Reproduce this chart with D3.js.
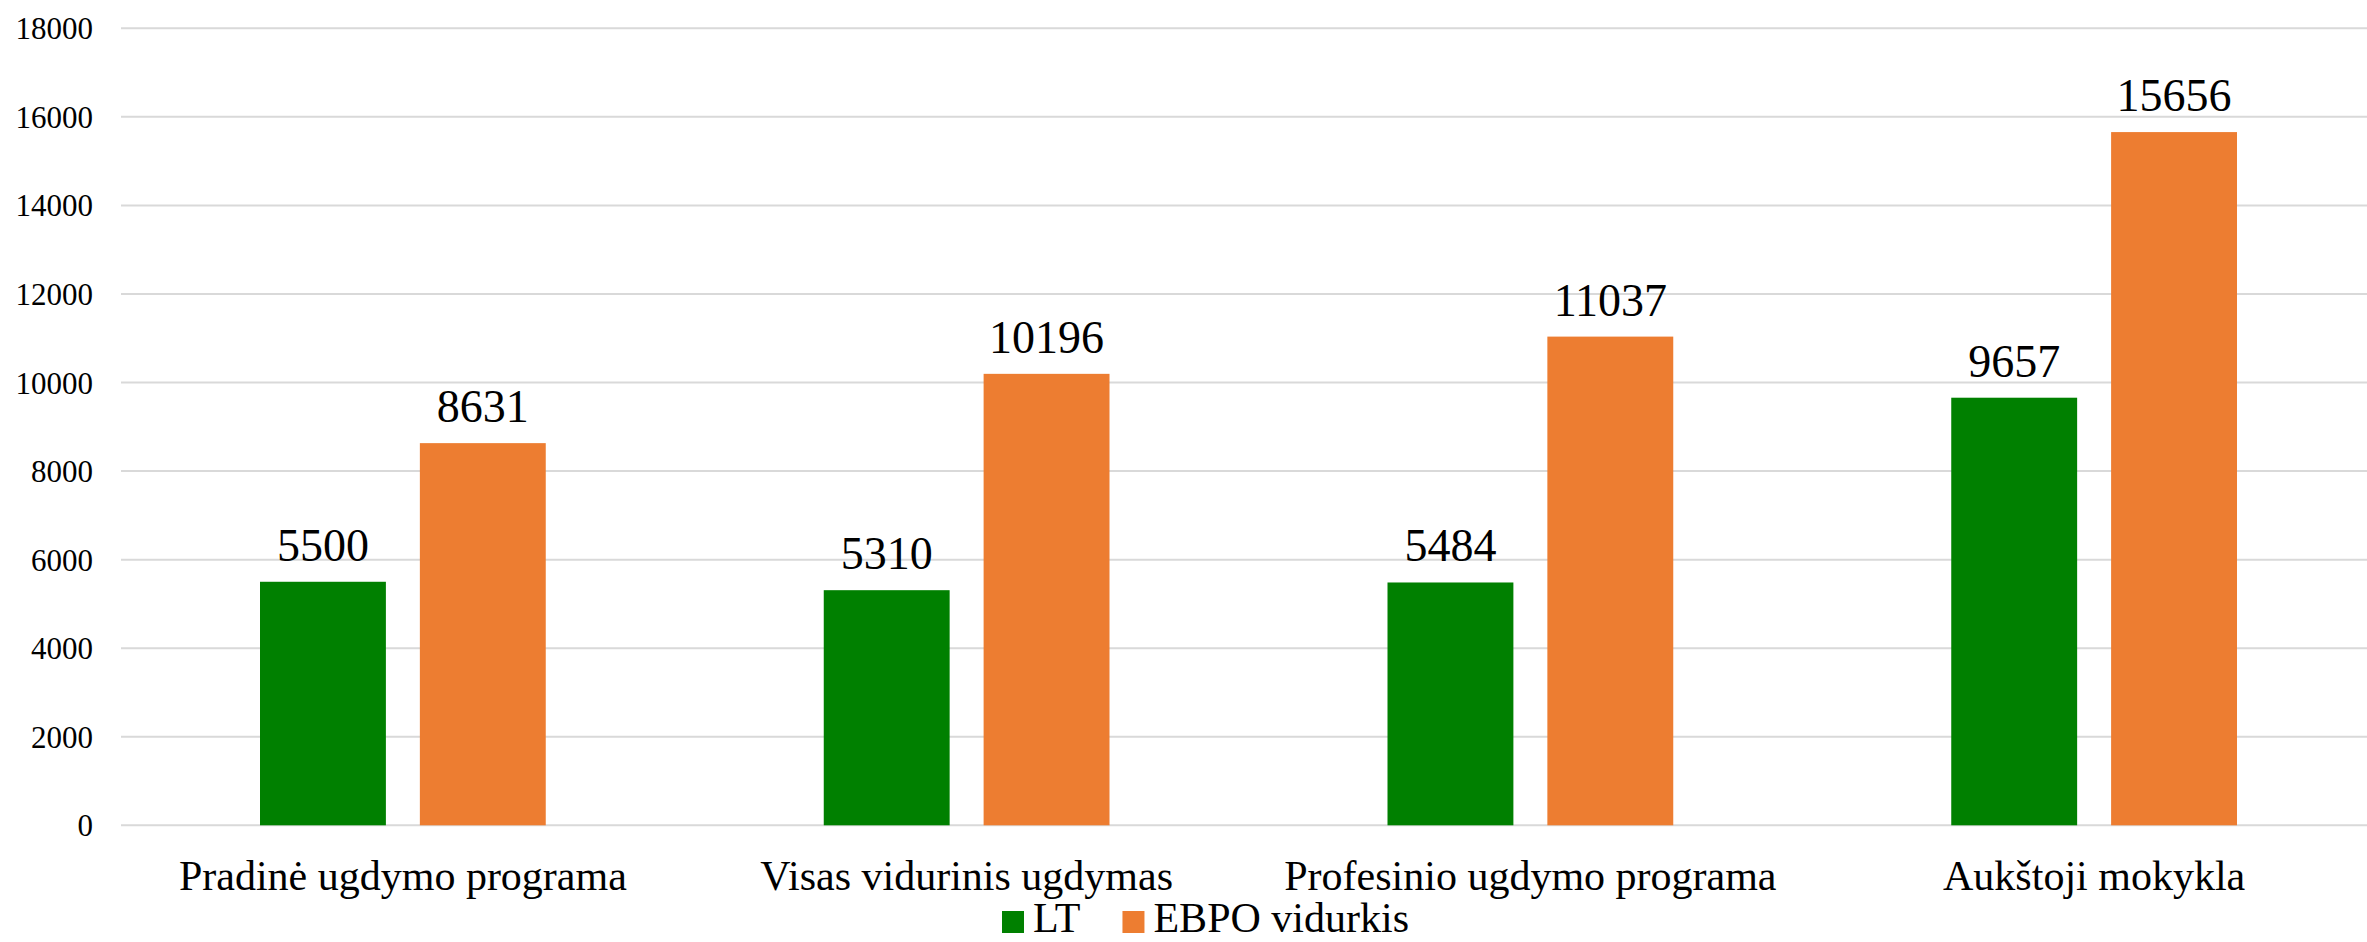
<!DOCTYPE html>
<html>
<head>
<meta charset="utf-8">
<script src="https://cdn.jsdelivr.net/npm/d3@7"></script>
<style>
  html, body { margin: 0; padding: 0; background: #fff; }
</style>
</head>
<body>
<div id="chart"></div>
<script>
var categories = ["Pradinė ugdymo programa", "Visas vidurinis ugdymas", "Profesinio ugdymo programa", "Aukštoji mokykla"];
var seriesNames = ["LT", "EBPO vidurkis"];
var ltValues = [5500, 5310, 5484, 9657];
var ebpoValues = [8631, 10196, 11037, 15656];
var yTicks = [0, 2000, 4000, 6000, 8000, 10000, 12000, 14000, 16000, 18000];
var colors = ["#008000", "#ED7D31"];

var width = 2367, height = 942;
var plot = {left: 121, right: 2376, top: 28.3, bottom: 825.3};
var serif = "'Liberation Serif'";

var data = categories.map(function(c, i) {
  return {category: c, values: [ltValues[i], ebpoValues[i]]};
});

var svg = d3.select("#chart").append("svg")
  .attr("width", width)
  .attr("height", height)
  .style("display", "block");

var y = d3.scaleLinear().domain([0, 18000]).range([plot.bottom, plot.top]);

var x0 = d3.scaleBand().domain(categories).range([plot.left, plot.right]).padding(0);

// inner band for the two bars in each category
var groupPad = 139;
var x1 = d3.scaleBand().domain(seriesNames)
  .range([groupPad, x0.bandwidth() - groupPad])
  .paddingInner(0.2125)
  .paddingOuter(0);

// gridlines
svg.append("g").attr("class", "grid")
  .selectAll("line").data(yTicks).enter().append("line")
  .attr("x1", plot.left)
  .attr("x2", width)
  .attr("y1", function(d) { return y(d); })
  .attr("y2", function(d) { return y(d); })
  .attr("stroke", "#d9d9d9")
  .attr("stroke-width", 2);

// y axis labels
var yAxis = d3.axisLeft(y).tickValues(yTicks).tickSize(0).tickPadding(0).tickFormat(d3.format("d"));
var yG = svg.append("g")
  .attr("transform", "translate(93,0)")
  .call(yAxis);
yG.select(".domain").remove();
yG.selectAll("text")
  .style("font-family", serif)
  .style("font-size", "31px")
  .attr("fill", "#000")
  .attr("dy", "0.34em");

// bars
var groups = svg.append("g").selectAll("g.cat").data(data).enter().append("g")
  .attr("class", "cat")
  .attr("transform", function(d) { return "translate(" + x0(d.category) + ",0)"; });

groups.selectAll("rect").data(function(d) {
    return d.values.map(function(v, i) { return {name: seriesNames[i], value: v, idx: i}; });
  }).enter().append("rect")
  .attr("x", function(d) { return x1(d.name); })
  .attr("width", x1.bandwidth())
  .attr("y", function(d) { return y(d.value); })
  .attr("height", function(d) { return y(0) - y(d.value); })
  .attr("fill", function(d) { return colors[d.idx]; });

groups.selectAll("text.val").data(function(d) {
    return d.values.map(function(v, i) { return {name: seriesNames[i], value: v}; });
  }).enter().append("text")
  .attr("class", "val")
  .attr("x", function(d) { return x1(d.name) + x1.bandwidth() / 2; })
  .attr("y", function(d) { return y(d.value) - 21; })
  .attr("text-anchor", "middle")
  .style("font-family", serif)
  .style("font-size", "46px")
  .attr("fill", "#000")
  .text(function(d) { return d.value; });

// category labels
svg.append("g").selectAll("text").data(categories).enter().append("text")
  .attr("x", function(d) { return x0(d) + x0.bandwidth() / 2; })
  .attr("y", 890)
  .attr("text-anchor", "middle")
  .style("font-family", serif)
  .style("font-size", "42px")
  .attr("fill", "#000")
  .text(function(d) { return d; });

// legend
var legend = svg.append("g").attr("class", "legend");
var lx = 1002;
seriesNames.forEach(function(name, i) {
  legend.append("rect")
    .attr("x", lx).attr("y", 911)
    .attr("width", 22).attr("height", 22)
    .attr("fill", colors[i]);
  var t = legend.append("text")
    .attr("x", lx + 31).attr("y", 932)
    .style("font-family", serif)
    .style("font-size", "42px")
    .attr("fill", "#000")
    .text(name);
  lx += 31 + t.node().getComputedTextLength() + 42;
});
</script>
</body>
</html>
